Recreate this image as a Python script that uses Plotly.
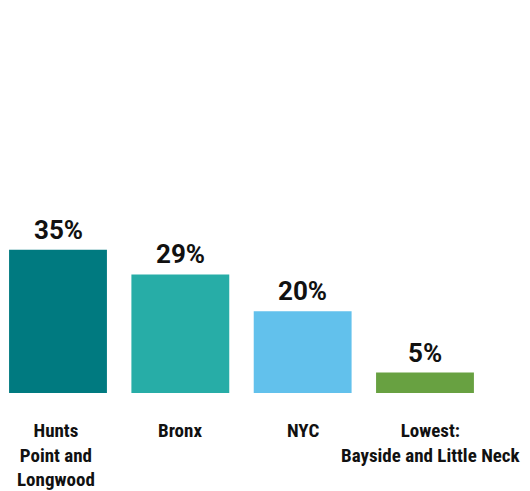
import plotly.graph_objects as go

categories = ["Hunts<br>Point and<br>Longwood", "Bronx", "NYC", "Lowest:<br>Bayside and Little Neck"]
values = [35, 29, 20, 5]
value_labels = ["35%", "29%", "20%", "5%"]
colors = ["#007A80", "#27ADA7", "#62C1EC", "#68A141"]

OFF = 8  # page body margin
W, H = 530 - OFF, 491 - OFF
fig = go.Figure()
fig.add_trace(go.Bar(
    x=list(range(len(values))), y=values,
    marker=dict(color=colors, line=dict(width=0)),
    width=0.8, hoverinfo="skip",
))

ann = []
label_font = dict(family="Roboto Condensed, Liberation Sans Narrow, Roboto, sans-serif", size=19, color="#111111")
xshifts = [-2, 0, 0, 6]
for i, (v, t) in enumerate(zip(values, value_labels)):
    ann.append(dict(x=i, y=v, xref="x", yref="y", text="<b>" + t + "</b>", showarrow=False,
                    yanchor="bottom", yshift=3,
                    font=dict(family="Roboto, sans-serif", size=26, color="#111111")))
    ann.append(dict(x=i, y=1 - (418 - OFF - 1) / H, xref="x", yref="paper", text="<b>" + categories[i] + "</b>",
                    showarrow=False, yanchor="top", xshift=xshifts[i], align="center",
                    font=label_font))

px_per_unit_x = 122.33
cx0 = 58 - OFF
x0 = -cx0 / px_per_unit_x
x1 = (W - cx0) / px_per_unit_x
ppu_y = 4.09
base = 393 - OFF
y0 = -(H - base) / ppu_y
y1 = base / ppu_y

fig.update_layout(
    width=W, height=H,
    margin=dict(l=0, r=0, t=0, b=0),
    paper_bgcolor="white", plot_bgcolor="white",
    showlegend=False,
    xaxis=dict(range=[x0, x1], visible=False, fixedrange=True),
    yaxis=dict(range=[y0, y1], visible=False, fixedrange=True),
    annotations=ann,
)
fig.write_html("out.html", config={"displayModeBar": False})
